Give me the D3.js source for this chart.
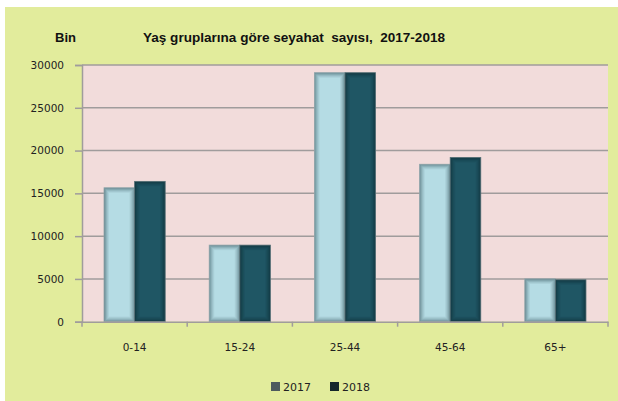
<!DOCTYPE html>
<html><head><meta charset="utf-8">
<script src="https://cdn.jsdelivr.net/npm/d3@7"></script>
<style>html,body{margin:0;padding:0;background:#fff;}svg{display:block;}</style>
</head><body>
<script>
const categories = ["0-14","15-24","25-44","45-64","65+"];
const series = ["2017","2018"];
const values2017 = [15650, 8950, 29100, 18400, 5000];
const values2018 = [16400, 8950, 29100, 19200, 4900];
const yTicks = [0,5000,10000,15000,20000,25000,30000];
const unitLabel = "Bin";
const title = "Yaş gruplarına göre seyahat  sayısı,  2017-2018";

const W = 618, H = 401;
const svg = d3.select("body").append("svg").attr("width", W).attr("height", H);

svg.append("rect").attr("x",5).attr("y",7).attr("width",W-5).attr("height",H-7).attr("fill","#e2ec9c");

const m = {left:82, right:608, top:65, bottom:321.7};
svg.append("rect").attr("x",m.left).attr("y",m.top).attr("width",m.right-m.left).attr("height",m.bottom-m.top).attr("fill","#f2dcdb");

const x = d3.scaleBand().domain(categories).range([m.left, m.right]).paddingInner(0).paddingOuter(0);
const xs = d3.scaleBand().domain(series).range([0, x.bandwidth()]).paddingInner(0).paddingOuter(0.72);
const y = d3.scaleLinear().domain([0,30000]).range([m.bottom, m.top]);

// gridlines
svg.append("g").selectAll("line").data(yTicks.filter(d=>d>0)).join("line")
  .attr("x1",m.left).attr("x2",m.right).attr("y1",d=>y(d)).attr("y2",d=>y(d))
  .attr("stroke","#a09c9c").attr("stroke-width",1.5);

// y axis
const ya = svg.append("g").attr("transform",`translate(${m.left},0)`)
  .call(d3.axisLeft(y).tickValues(yTicks).tickSize(7).tickPadding(11).tickFormat(d3.format("d")));
ya.select(".domain").attr("stroke","#a09c9c").attr("stroke-width",1.5);
ya.selectAll(".tick line").attr("stroke","#a09c9c").attr("stroke-width",1.5);
ya.selectAll("text").attr("font-family","'DejaVu Sans', sans-serif").attr("font-size",10.5).attr("fill","#222");

// bars
const data = categories.map((c,i)=>({c, vals:[{s:"2017",v:values2017[i]},{s:"2018",v:values2018[i]}]}));
const gs = svg.append("g").selectAll("g").data(data).join("g").attr("transform",d=>`translate(${x(d.c)},0)`);
const bars = gs.selectAll("g").data(d=>d.vals).join("g");
bars.append("rect").attr("x",d=>xs(d.s)).attr("width",xs.bandwidth()).attr("y",d=>y(d.v)).attr("height",d=>y(0)-y(d.v))
  .attr("fill",d=>d.s==="2017"?"#b5dce4":"#1f5664");
// inner glow edges (pixel based)
const glow = [0.55,0.4,0.27,0.16,0.08];
glow.forEach((op,k)=>{
  bars.append("rect")
    .attr("x",d=>xs(d.s)+k+0.5).attr("width",d=>Math.max(0,xs.bandwidth()-2*k-1))
    .attr("y",d=>y(d.v)+k+0.5).attr("height",d=>Math.max(0,y(0)-y(d.v)-2*k-1))
    .attr("fill","none")
    .attr("stroke",d=>d.s==="2017"?"#2f4d56":"#06171c")
    .attr("stroke-opacity",d=>d.s==="2017"?op:op*0.8);
});
bars.append("rect").attr("x",d=>xs(d.s)).attr("width",xs.bandwidth()).attr("y",d=>y(d.v)).attr("height",d=>y(0)-y(d.v))
  .attr("fill","none").attr("stroke",d=>d.s==="2017"?"#8fa3a8":"#5a7278").attr("stroke-width",0.8);

// x axis
const xa = svg.append("g").attr("transform",`translate(0,${m.bottom})`)
  .call(d3.axisBottom(x).tickSize(0).tickPadding(22));
xa.select(".domain").attr("stroke","#a09c9c").attr("stroke-width",1.5);
xa.selectAll("text").attr("font-family","'DejaVu Sans', sans-serif").attr("font-size",10.5).attr("fill","#222");
const bounds = categories.map(c=>x(c)).concat([m.right]);
svg.append("g").selectAll("line").data(bounds).join("line")
  .attr("x1",d=>d).attr("x2",d=>d).attr("y1",m.bottom).attr("y2",m.bottom+5)
  .attr("stroke","#a09c9c").attr("stroke-width",1.5);

// titles
svg.append("text").attr("x",55).attr("y",42).text(unitLabel)
  .attr("font-family","'Liberation Sans', Arial, sans-serif").attr("font-weight","bold").attr("font-size",13).attr("fill","#111");
svg.append("text").attr("x",143).attr("y",42).text(title).attr("textLength",302).attr("lengthAdjust","spacingAndGlyphs")
  .attr("font-family","'Liberation Sans', Arial, sans-serif").attr("font-weight","bold").attr("font-size",13.5).attr("fill","#111").style("white-space","pre");

// legend
const legColors = ["#4d5a5e","#15262b"];
const lg = svg.append("g").selectAll("g").data(series).join("g")
  .attr("transform",(d,i)=>`translate(${271+i*59},382)`);
lg.append("rect").attr("width",9).attr("height",9).attr("y",0).attr("fill",(d,i)=>legColors[i]);
lg.append("text").attr("x",12).attr("y",9).text(d=>d)
  .attr("font-family","'DejaVu Sans', sans-serif").attr("font-size",11).attr("fill","#222");
</script>
</body></html>
